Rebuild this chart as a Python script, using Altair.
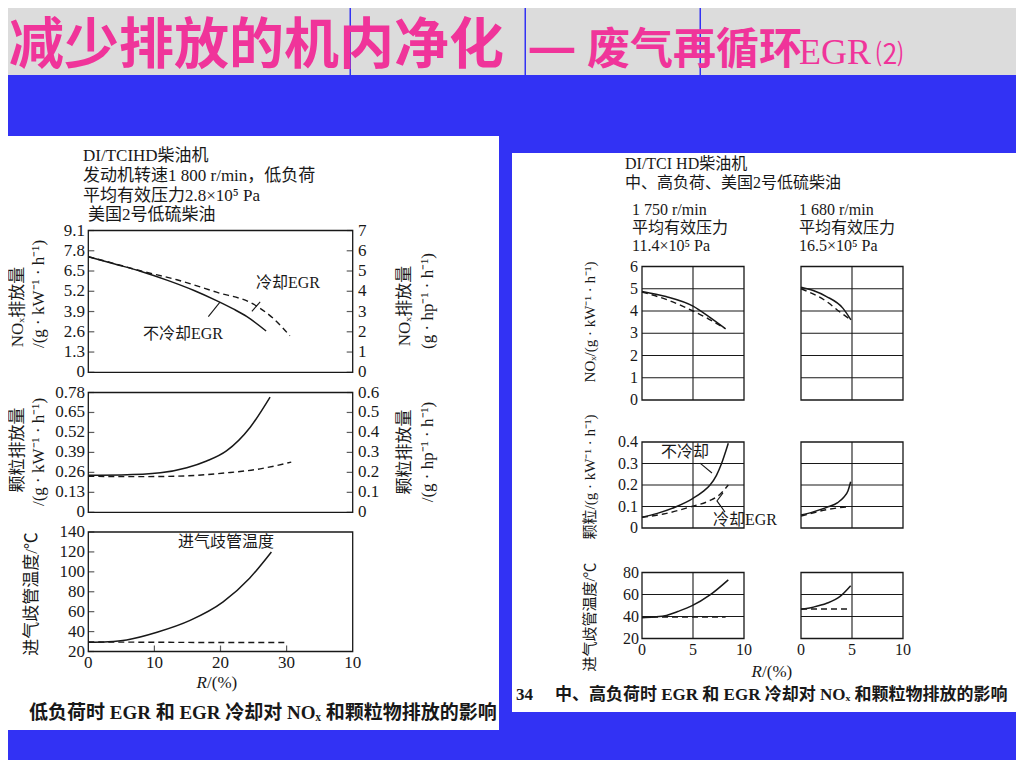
import altair as alt
import pandas as pd

# ================= values =================
# ---- left figure: low load, 1 800 r/min; R = EGR rate (%) ----
L_NOX_HOT_R = [0, 4, 8, 12, 16, 19.4, 22, 24, 26.9]
L_NOX_HOT = [7.42, 6.95, 6.47, 5.9, 5.25, 4.6, 4.05, 3.57, 2.65]
L_NOX_COOL_R = [0, 4, 8, 13.4, 19.4, 25, 28, 30.5]
L_NOX_COOL = [7.42, 6.97, 6.5, 5.94, 5.14, 4.37, 3.45, 2.34]
L_PM_HOT_R = [0, 5, 10.9, 14.9, 17.9, 20.9, 24.5, 27.5]
L_PM_HOT = [0.241, 0.243, 0.257, 0.29, 0.334, 0.40, 0.554, 0.75]
L_PM_COOL_R = [0, 7, 13.4, 20.9, 26, 30.7]
L_PM_COOL = [0.235, 0.232, 0.235, 0.257, 0.283, 0.327]
L_T_HOT_R = [0, 3, 5.8, 10.4, 15.4, 20.4, 24.4, 27.7]
L_T_HOT = [29.2, 29.8, 31.6, 39.3, 51.2, 69.8, 93.6, 120]
L_T_COOL_R = [0, 10, 20, 30]
L_T_COOL = [29.5, 29.3, 29.0, 29.0]

# ---- right figure: 1 750 r/min (a) and 1 680 r/min (b) ----
A_NOX_HOT_R = [0, 2.35, 5, 6.55, 8.2]
A_NOX_HOT = [4.88, 4.65, 4.22, 3.75, 3.2]
A_NOX_COOL_R = [0, 2.5, 5, 6.5, 8.1]
A_NOX_COOL = [4.85, 4.5, 4.0, 3.65, 3.22]
B_NOX_HOT_R = [0, 1.2, 2.5, 4.1, 4.9]
B_NOX_HOT = [5.07, 4.92, 4.65, 4.13, 3.6]
B_NOX_COOL_R = [0, 2.5, 3.75, 4.9]
B_NOX_COOL = [5.0, 4.43, 3.98, 3.6]

A_PM_HOT_R = [0, 1.5, 3.4, 5, 6, 6.67, 7.3, 7.8, 8.46]
A_PM_HOT = [0.05, 0.068, 0.1, 0.138, 0.17, 0.2, 0.245, 0.3, 0.394]
A_PM_COOL_R = [0, 2.1, 4.87, 6.67, 7.6, 8.46]
A_PM_COOL = [0.05, 0.065, 0.1, 0.128, 0.155, 0.2]
B_PM_HOT_R = [0, 1.2, 2.53, 3.6, 4.17, 4.6, 4.87]
B_PM_HOT = [0.06, 0.075, 0.096, 0.118, 0.142, 0.172, 0.215]
B_PM_COOL_R = [0, 2.5, 4.8]
B_PM_COOL = [0.055, 0.085, 0.1]

A_T_HOT_R = [0, 1.1, 2.4, 3.5, 4.87, 6.67, 8.46]
A_T_HOT = [38.8, 39.5, 41.0, 44.5, 49.6, 59.6, 73.3]
A_T_COOL_R = [0, 4, 8.2]
A_T_COOL = [39.6, 39.6, 39.5]
B_T_HOT_R = [0, 1.2, 2.52, 3.8, 4.87]
B_T_HOT = [46.5, 48.5, 52, 58, 68]
B_T_COOL_R = [0, 4.9]
B_T_COOL = [46.8, 46.8]

# ---- tick values / labels ----
LX_TICKS = [0, 10, 20, 30, 40]
LX_LABELS = ["0", "10", "20", "30", "10"]          # as printed
NOX_KW_TICKS = [0, 1.3, 2.6, 3.9, 5.2, 6.5, 7.8, 9.1]
NOX_HP_TICKS = [0, 1, 2, 3, 4, 5, 6, 7]
PM_KW_TICKS = [0, 0.13, 0.26, 0.39, 0.52, 0.65, 0.78]
PM_HP_TICKS = [0, 0.1, 0.2, 0.3, 0.4, 0.5, 0.6]
T_TICKS = [20, 40, 60, 80, 100, 120, 140]
RX_TICKS = [0, 5, 10]
R_NOX_TICKS = [0, 1, 2, 3, 4, 5, 6]
R_PM_TICKS = [0, 0.1, 0.2, 0.3, 0.4]
R_T_TICKS = [20, 40, 60, 80]

# ================= layout / style =================
OX, OY = 8, 8            # page margin: reference pixel -> chart pixel
W, H = 1008, 752
BLUE = "#3232f4"
PINK = "#f0349a"
INK = "#181818"
SERIF = "'Liberation Serif', 'Noto Sans CJK SC', serif"
CJK = "'Noto Sans CJK SC', sans-serif"


def X(v):
    return v - OX


def Y(v):
    return v - OY


PANELS = {
    "L1": dict(xd=(0, 40), xr=(88.3, 352.7), yd=(0, 9.1), yr=(372.3, 230.5)),
    "L2": dict(xd=(0, 40), xr=(88.3, 352.7), yd=(0, 0.78), yr=(512.3, 392.5)),
    "L3": dict(xd=(0, 40), xr=(88.3, 352.7), yd=(20, 140), yr=(651.5, 532.0)),
    "A1": dict(xd=(0, 10), xr=(642, 744), yd=(0, 6), yr=(400, 266.5)),
    "B1": dict(xd=(0, 10), xr=(801, 903), yd=(0, 6), yr=(400, 266.5)),
    "A2": dict(xd=(0, 10), xr=(642, 744), yd=(0, 0.4), yr=(528, 442)),
    "B2": dict(xd=(0, 10), xr=(801, 903), yd=(0, 0.4), yr=(528, 442)),
    "A3": dict(xd=(0, 10), xr=(642, 744), yd=(20, 80), yr=(638.5, 572.5)),
    "B3": dict(xd=(0, 10), xr=(801, 903), yd=(20, 80), yr=(638.5, 572.5)),
}


def xs(p):
    return alt.Scale(domain=list(p["xd"]), range=[X(p["xr"][0]), X(p["xr"][1])],
                     nice=False, zero=False)


def ys(p, yd=None):
    d = list(yd if yd is not None else p["yd"])
    return alt.Scale(domain=d, range=[Y(p["yr"][0]), Y(p["yr"][1])],
                     nice=False, zero=False)


def frame(p):
    df = pd.DataFrame({"a": [p["xd"][0]], "b": [p["xd"][1]],
                       "c": [p["yd"][0]], "d": [p["yd"][1]]})
    return alt.Chart(df).mark_rect(fillOpacity=0, stroke=INK, strokeWidth=1.3).encode(
        x=alt.X("a:Q", scale=xs(p), axis=None), x2="b",
        y=alt.Y("c:Q", scale=ys(p), axis=None), y2="d")


def curve(p, rx, vy, dash=False, width=1.5, interp="monotone"):
    df = pd.DataFrame({"r": rx, "v": vy, "i": list(range(len(rx)))})
    props = dict(color=INK, strokeWidth=width, interpolate=interp)
    if dash:
        props["strokeDash"] = [6, 4]
    return alt.Chart(df).mark_line(**props).encode(
        x=alt.X("r:Q", scale=xs(p), axis=None),
        y=alt.Y("v:Q", scale=ys(p), axis=None),
        order="i:O")


def hgrid(p, vals):
    df = pd.DataFrame({"v": vals, "a": p["xd"][0], "b": p["xd"][1]})
    return alt.Chart(df).mark_rule(color=INK, strokeWidth=1.1).encode(
        y=alt.Y("v:Q", scale=ys(p), axis=None),
        x=alt.X("a:Q", scale=xs(p), axis=None), x2="b")


def vgrid(p, vals):
    df = pd.DataFrame({"v": vals, "a": p["yd"][0], "b": p["yd"][1]})
    return alt.Chart(df).mark_rule(color=INK, strokeWidth=1.1).encode(
        x=alt.X("v:Q", scale=xs(p), axis=None),
        y=alt.Y("a:Q", scale=ys(p), axis=None), y2="b")


def yticks(p, vals, side, yd=None):
    base = p["xd"][0] if side == "left" else p["xd"][1]
    off = 3 if side == "left" else -3
    df = pd.DataFrame({"v": vals, "b": base})
    return alt.Chart(df).mark_tick(orient="horizontal", size=6, thickness=1.2,
                                   color=INK, xOffset=off).encode(
        x=alt.X("b:Q", scale=xs(p), axis=None),
        y=alt.Y("v:Q", scale=ys(p, yd), axis=None))


def xticks(p, vals):
    df = pd.DataFrame({"v": vals, "b": p["yd"][0]})
    return alt.Chart(df).mark_tick(orient="vertical", size=6, thickness=1.2,
                                   color=INK, yOffset=-3).encode(
        x=alt.X("v:Q", scale=xs(p), axis=None),
        y=alt.Y("b:Q", scale=ys(p), axis=None))


def ylabels(p, vals, px, align, size, labels=None, yd=None):
    lab = labels if labels is not None else [f"{v:g}" for v in vals]
    df = pd.DataFrame({"v": vals, "t": lab})
    return alt.Chart(df).mark_text(align=align, baseline="middle", font=SERIF,
                                   fontSize=size, color=INK).encode(
        x=alt.value(X(px)),
        y=alt.Y("v:Q", scale=ys(p, yd), axis=None),
        text="t:N")


def xlabels(p, vals, py, size, labels=None):
    lab = labels if labels is not None else [f"{v:g}" for v in vals]
    df = pd.DataFrame({"v": vals, "t": lab})
    return alt.Chart(df).mark_text(align="center", baseline="middle", font=SERIF,
                                   fontSize=size, color=INK).encode(
        x=alt.X("v:Q", scale=xs(p), axis=None),
        y=alt.value(Y(py)),
        text="t:N")


def texts(rows, size, align="left", angle=0, weight="normal", style="normal",
          font=SERIF, color=INK, limit=0):
    df = pd.DataFrame(rows, columns=["t", "x", "y"])
    df["x"] = df["x"] - OX
    df["y"] = df["y"] - OY
    props = dict(align=align, baseline="middle", font=font, fontSize=size,
                 fontWeight=weight, fontStyle=style, color=color, angle=angle)
    if limit:
        props["limit"] = limit
        props["ellipsis"] = ""
    return alt.Chart(df).mark_text(**props).encode(
        x=alt.X("x:Q", scale=None, axis=None),
        y=alt.Y("y:Q", scale=None, axis=None),
        text="t:N")


# ---------- background boxes (reference pixels) ----------
BOXES = [
    (0, 0, 1030, 75, "#dcdcdc"),     # title banner
    (0.5, 0, 2, 75, BLUE),
    (349.5, 0, 351, 75, BLUE),
    (524.5, 0, 526, 75, BLUE),
    (699.5, 0, 701, 75, BLUE),
    (0, 136, 499, 730, "#ffffff"),   # left figure sheet
    (512, 153, 1022, 712, "#ffffff"),  # right figure sheet
]
bdf = pd.DataFrame(BOXES, columns=["x0", "y0", "x1", "y1", "c"])
bdf[["x0", "x1"]] = bdf[["x0", "x1"]] - OX
bdf[["y0", "y1"]] = bdf[["y0", "y1"]] - OY
boxes = alt.Chart(bdf).mark_rect().encode(
    x=alt.X("x0:Q", scale=None, axis=None), x2="x1",
    y=alt.Y("y0:Q", scale=None, axis=None), y2="y1",
    color=alt.Color("c:N", scale=None, legend=None))

layers = [boxes]

# ---------- left figure ----------
P = PANELS
for key in ("L1", "L2", "L3"):
    layers.append(frame(P[key]))
layers += [
    curve(P["L1"], L_NOX_HOT_R, L_NOX_HOT),
    curve(P["L1"], L_NOX_COOL_R, L_NOX_COOL, dash=True, width=1.4),
    curve(P["L2"], L_PM_HOT_R, L_PM_HOT),
    curve(P["L2"], L_PM_COOL_R, L_PM_COOL, dash=True, width=1.4),
    curve(P["L3"], L_T_HOT_R, L_T_HOT),
    curve(P["L3"], L_T_COOL_R, L_T_COOL, dash=True, width=1.4),
    # leader lines of the two curve labels
    curve(P["L1"], [24.75, 26.0], [3.91, 4.52], width=1.1, interp="linear"),
    curve(P["L1"], [18.16, 19.92], [3.57, 4.50], width=1.1, interp="linear"),
    yticks(P["L1"], NOX_KW_TICKS, "left"),
    yticks(P["L1"], NOX_HP_TICKS, "right", yd=(0, 7)),
    yticks(P["L2"], PM_KW_TICKS, "left"),
    yticks(P["L2"], PM_HP_TICKS, "right", yd=(0, 0.6)),
    yticks(P["L3"], T_TICKS, "left"),
    xticks(P["L3"], LX_TICKS[1:-1]),
    ylabels(P["L1"], NOX_KW_TICKS, 85, "right", 17),
    ylabels(P["L1"], NOX_HP_TICKS, 358, "left", 17, yd=(0, 7)),
    ylabels(P["L2"], PM_KW_TICKS, 85, "right", 17),
    ylabels(P["L2"], PM_HP_TICKS, 358, "left", 17, yd=(0, 0.6)),
    ylabels(P["L3"], T_TICKS, 85, "right", 17),
    xlabels(P["L3"], LX_TICKS, 663, 17, labels=LX_LABELS),
]

# ---------- right figure ----------
for key in ("A1", "B1", "A2", "B2", "A3", "B3"):
    p = P[key]
    layers.append(frame(p))
    layers.append(vgrid(p, [5]))
P_GRID = {"1": R_NOX_TICKS[1:-1], "2": R_PM_TICKS[1:-1], "3": R_T_TICKS[1:-1]}
for key in ("A1", "B1", "A2", "B2", "A3", "B3"):
    layers.append(hgrid(P[key], P_GRID[key[1]]))
layers += [
    curve(P["A1"], A_NOX_HOT_R, A_NOX_HOT),
    curve(P["A1"], A_NOX_COOL_R, A_NOX_COOL, dash=True, width=1.4),
    curve(P["B1"], B_NOX_HOT_R, B_NOX_HOT),
    curve(P["B1"], B_NOX_COOL_R, B_NOX_COOL, dash=True, width=1.4),
    curve(P["A2"], A_PM_HOT_R, A_PM_HOT),
    curve(P["A2"], A_PM_COOL_R, A_PM_COOL, dash=True, width=1.4),
    curve(P["B2"], B_PM_HOT_R, B_PM_HOT),
    curve(P["B2"], B_PM_COOL_R, B_PM_COOL, dash=True, width=1.4),
    curve(P["A3"], A_T_HOT_R, A_T_HOT),
    curve(P["A3"], A_T_COOL_R, A_T_COOL, dash=True, width=1.4),
    curve(P["B3"], B_T_HOT_R, B_T_HOT),
    curve(P["B3"], B_T_COOL_R, B_T_COOL, dash=True, width=1.4),
    curve(P["A2"], [5.69, 6.86], [0.302, 0.256], width=1.1, interp="linear"),
    curve(P["A2"], [7.94, 7.35, 8.14], [0.163, 0.126, 0.074], width=1.1, interp="linear"),
    ylabels(P["A1"], R_NOX_TICKS, 638, "right", 16),
    ylabels(P["A2"], R_PM_TICKS, 638, "right", 16),
    ylabels(P["A3"], R_T_TICKS, 639, "right", 16),
    xlabels(P["A3"], RX_TICKS, 650, 16),
    xlabels(P["B3"], RX_TICKS, 650, 16),
]

# ---------- texts (reference pixels) ----------
layers += [
    # slide title
    texts([("减少排放的机内净化", 9, 46)], 55, font=CJK, weight="bold", color=PINK),
    texts([("—", 527, 49)], 55, font=CJK, weight="bold", color=PINK),
    texts([("废气再循环", 587, 51)], 43, font=CJK, weight="bold", color=PINK),
    texts([("EGR", 799, 53)], 36, font=SERIF, color=PINK),
    texts([("⑵", 876, 56)], 27, font=CJK, color=PINK),
    # left figure header
    texts([("DI/TCIHD柴油机", 83, 156),
           ("发动机转速1 800 r/min，低负荷", 83, 176),
           ("平均有效压力2.8×10⁵ Pa", 83, 196),
           ("美国2号低硫柴油", 88, 215)], 17),
    # right figure header
    texts([("DI/TCI HD柴油机", 625, 164),
           ("中、高负荷、美国2号低硫柴油", 625, 183),
           ("1 750 r/min", 632, 210), ("平均有效压力", 632, 228), ("11.4×10⁵ Pa", 632, 246),
           ("1 680 r/min", 799, 210), ("平均有效压力", 799, 228), ("16.5×10⁵ Pa", 799, 246)], 16),
    # left figure axis titles
    texts([("NOₓ排放量", 18, 307), ("/(g · kW⁻¹ · h⁻¹)", 39, 294),
           ("NOₓ排放量", 405, 306), ("(g · hp⁻¹ · h⁻¹)", 428, 301),
           ("颗粒排放量", 18, 450), ("/(g · kW⁻¹ · h⁻¹)", 39, 452),
           ("颗粒排放量", 405, 452), ("/(g · hp⁻¹ · h⁻¹)", 428, 452),
           ("进气歧管温度/℃", 32, 594)], 17, align="center", angle=270),
    # right figure axis title
    texts([("进气歧管温度/℃", 590, 617), ("颗粒/(g · kW⁻¹ · h⁻¹)", 590, 477),
           ("NOₓ/(g · kW⁻¹ · h⁻¹)", 590, 322)], 15, align="center", angle=270),
    # curve labels
    texts([("冷却EGR", 288, 283), ("不冷却EGR", 183, 334), ("进气歧管温度", 226, 542),
           ("不冷却", 685, 452), ("冷却EGR", 745, 520)], 16, align="center"),
    # x titles
    texts([("R", 207, 683), ("R", 762, 672)], 17, align="right", style="italic"),
    texts([("/(%)", 207, 683), ("/(%)", 762, 672)], 17),
    # captions
    texts([("低负荷时 EGR 和 EGR 冷却对 NOₓ 和颗粒物排放的影响", 29, 713)], 19,
          weight="bold", limit=470),
    texts([("34", 516, 695)], 17, weight="bold"),
    texts([("中、高负荷时 EGR 和 EGR 冷却对 NOₓ 和颗粒物排放的影响", 555, 695)], 17,
          weight="bold", limit=461),
]

chart = alt.layer(*layers).resolve_scale(x="independent", y="independent").properties(
    width=W, height=H, background=BLUE, padding=0,
    autosize=alt.AutoSizeParams(type="none"),
).configure_view(strokeWidth=0)

chart.save("out.html", embed_options={"renderer": "svg", "actions": False})
